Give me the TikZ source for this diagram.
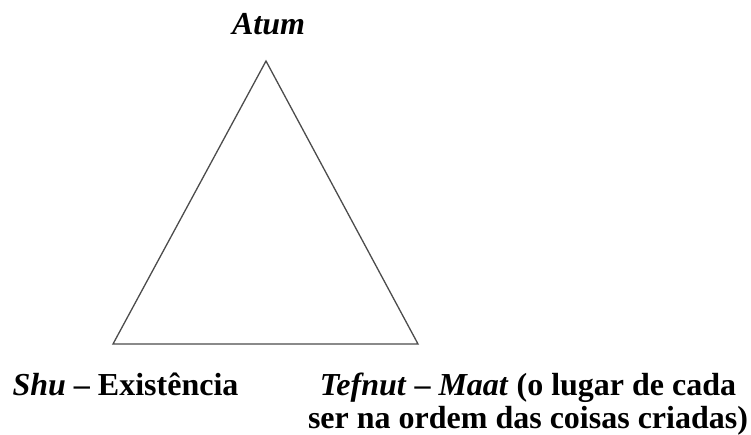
\documentclass[tikz,border=0pt]{standalone}
\usepackage{fontspec}
\setmainfont{Liberation Serif}
\usepackage{tikz}
\usetikzlibrary{positioning}
\tikzset{lbl/.style={font=\fontsize{32}{33}\selectfont\bfseries, inner sep=0pt, anchor=base},
side/.style={draw=black!70, line width=1.3pt, line join=miter},
}

\begin{document}
\begin{tikzpicture}[x=1pt,y=-1pt]
	\useasboundingbox (0,0) rectangle (751,434);
	\coordinate (apex) at (266,61);
	\coordinate (left) at (113,344);
	\coordinate (right) at (418,344);
	\draw[side] (apex) -- (left) -- (right) -- cycle;
	\node[lbl] (atum) at (268.5,34) {\itshape Atum};
	\node[lbl] (shu) at (125.5,395) {\textit{Shu} -- Existência};
	\node[lbl, align=center] (tefnut) at (528,428) {\textit{Tefnut} -- \textit{Maat} (o lugar de cada\\ser na ordem das coisas criadas)};
\end{tikzpicture}
\end{document}
